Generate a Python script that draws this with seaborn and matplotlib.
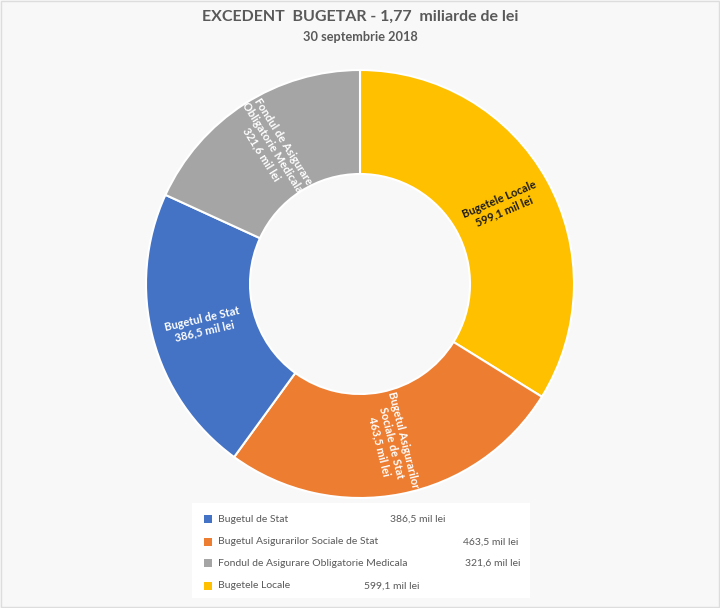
import matplotlib
matplotlib.use("Agg")
import matplotlib.pyplot as plt
import seaborn as sns
import numpy as np
from matplotlib.patches import Rectangle

# ---- data ----
categories = ["Bugetele Locale", "Bugetul Asigurarilor Sociale de Stat",
              "Bugetul de Stat", "Fondul de Asigurare Obligatorie Medicala"]
values = [599.1, 463.5, 386.5, 321.6]
value_labels = ["599,1 mil lei", "463,5 mil lei", "386,5 mil lei", "321,6 mil lei"]
slice_labels = ["Bugetele Locale\n599,1 mil lei",
                "Bugetul Asigurarilor\nSociale de Stat\n463,5 mil lei",
                "Bugetul de Stat\n386,5 mil lei",
                "Fondul de Asigurare\nObligatorie Medicala\n321,6 mil lei"]
legend_order = [2, 1, 3, 0]  # legend rows: Stat, Asigurari, Fondul, Locale
title = "EXCEDENT  BUGETAR - 1,77  miliarde de lei"
subtitle = "30 septembrie 2018"

# ---- style ----
sns.set_theme(style="white")
plt.rcParams["font.family"] = ["Lato", "DejaVu Sans"]
colors = ["#FFC000", "#ED7D31", "#4472C4", "#A5A5A5"]
label_colors = ["#1a1a1a", "white", "white", "white"]
label_rot = [23, -76, 13, -58]
W, H = 720, 608

fig = plt.figure(figsize=(7.2, 6.08), dpi=100, facecolor="#F8F8F8")
fig.patches.append(Rectangle((0.001, 0.001), 0.998, 0.998, transform=fig.transFigure,
                             fill=False, edgecolor="#DDDDDD", lw=1))

cx, cy, R = 360, 284, 214
ax = fig.add_axes([(cx - R) / W, (H - cy - R) / H, 2 * R / W, 2 * R / H])
ax.set_facecolor("none")
wedges, _ = ax.pie(values, colors=colors, startangle=90, counterclock=False,
                   radius=1.0,
                   wedgeprops=dict(width=0.486, edgecolor="white", linewidth=1.5))
ax.set_xlim(-1, 1)
ax.set_ylim(-1, 1)
ax.set_aspect("equal")
ax.axis("off")

r_lab = 0.757
for w, txt, col, rot in zip(wedges, slice_labels, label_colors, label_rot):
    ang = np.deg2rad((w.theta1 + w.theta2) / 2)
    ax.text(r_lab * np.cos(ang), r_lab * np.sin(ang), txt, ha="center", va="center",
            rotation=rot, rotation_mode="anchor", color=col, fontsize=8,
            fontweight="bold", linespacing=1.15)

# title
fig.text(0.5, 1 - 17 / H, title, ha="center", va="center", fontsize=11.5,
         fontweight="bold", color="#595959")
fig.text(0.5, 1 - 37 / H, subtitle, ha="center", va="center", fontsize=9.2,
         fontweight="bold", color="#595959")

# legend box
fig.patches.append(Rectangle((192 / W, 1 - 598 / H), (530 - 192) / W, (598 - 503) / H,
                             transform=fig.transFigure, facecolor="white",
                             edgecolor="none"))
row_y = [519, 542, 563, 586]
val_x = [390, 463, 465, 364]
for i, idx in enumerate(legend_order):
    y = 1 - row_y[i] / H
    fig.patches.append(Rectangle((204 / W, y - 4 / H), 8 / W, 8 / H,
                                 transform=fig.transFigure, facecolor=colors[idx],
                                 edgecolor="none"))
    fig.text(218 / W, y, categories[idx], ha="left", va="center", fontsize=7.5,
             color="#595959")
    fig.text(val_x[i] / W, y, value_labels[idx], ha="left", va="center",
             fontsize=7.5, color="#595959")

fig.savefig("out.png", dpi=100, facecolor=fig.get_facecolor())
